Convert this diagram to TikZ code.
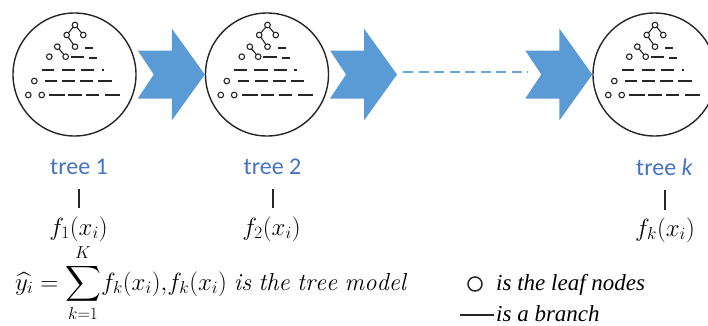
\documentclass[tikz,border=0pt]{standalone}
\usepackage{amsmath}
\usepackage{fontspec}
\newfontfamily\treefont{Carlito}
\newfontfamily\legfont{Liberation Serif}
\definecolor{arrowblue}{HTML}{5B9BD5}
\definecolor{labelblue}{HTML}{4472C4}
\tikzset{
  treecirc/.style={draw=black!85, circle, line width=1.4pt, minimum size=123pt, inner sep=0pt},
  glyphline/.style={line width=1.8pt, black!85},
  glyphedge/.style={line width=1.1pt, black!85},
  leafdot/.style={draw=black!85, fill=white, line width=1.1pt},
  treelabel/.style={anchor=base, inner sep=0pt, text=labelblue, font=\treefont\fontsize{24}{28}\selectfont},
  flabel/.style={anchor=base, inner sep=0pt, font=\fontsize{25.5}{30}\selectfont},
  barline/.style={line width=1.3pt, black!85},
  legtext/.style={anchor=base west, inner sep=0pt, text depth=0pt, font=\legfont\itshape\fontsize{23}{27}\selectfont},
  blockarrow/.style={fill=arrowblue, draw=none},
  dashlink/.style={arrowblue!90, line width=1.6pt, dash pattern=on 10pt off 5.5pt},
  treeglyph/.pic={
    \draw[glyphedge] (-7.8,-39.5) -- (0.5,-49.5) -- (8.8,-39.5);
    \draw[glyphedge] (-7.8,-39.5) -- (0.5,-27.8);
    \draw[glyphedge] (-17.2,-27.8) -- (-8.8,-17.8);
    \foreach \p in {(0.5,-49.5),(-7.8,-39.5),(8.8,-39.5),(0.5,-27.8),(-17.2,-27.8),(-8.8,-17.8),(-25.2,-17.8),(-40.2,6.5),(-46.2,20.5),(-32.8,20.5)}
      \draw[leafdot] \p circle (2.8pt);
    \draw[glyphline] (10.5,-26.8) -- (18.5,-26.8);
    \draw[glyphline] (-3.8,-17.2) -- (9.5,-17.2);
    \draw[glyphline] (14.5,-16.2) -- (22.5,-16.2);
    \foreach \a/\b in {-32.8/-20.5,-12.8/0.5,6.5/19.8,27.2/29.5}
      \draw[glyphline] (\a,-4.5) -- (\b,-4.5);
    \foreach \a/\b in {-29.5/-17.8,-12.2/0.5,5.5/18.8,23.8/37.2}
      \draw[glyphline] (\a,6.5) -- (\b,6.5);
    \foreach \a/\b in {-25.2/-9.5,-6.2/7.2,11.5/24.8,30.5/45.5}
      \draw[glyphline] (\a,20.5) -- (\b,20.5);
  },
  chevron/.pic={
    \fill[blockarrow] (-67,-24) -- (-33,-24) -- (-33,-46) -- (0,0) -- (-33,46) -- (-33,24) -- (-67,24) -- (-51,0) -- cycle;
  }
}
\begin{document}
\begin{tikzpicture}[x=1pt,y=-1pt]
\useasboundingbox (0,0) rectangle (708,325);
\clip (0,0) rectangle (708,325);
\fill[white] (0,0) rectangle (708,325);

% tree circles
\node[treecirc] (c1) at (74.5,74.5) {};
\node[treecirc] (c2) at (267,74.5) {};
\node[treecirc] (c3) at (654.5,74.5) {};
\pic at (c1.center) {treeglyph};
\pic at (c2.center) {treeglyph};
\pic at (c3.center) {treeglyph};

% block arrows
\pic at (c2.west) {chevron};
\pic at (397,74.5) {chevron};
\pic at (c3.west) {chevron};

% dashed link
\coordinate (d1) at (403,72);
\coordinate (d2) at (528,72);
\draw[dashlink] (d1) -- (d2);

% labels
\node[treelabel] (t1) at (79,174) {tree 1};
\node[treelabel] (t2) at (272.5,174) {tree 2};
\node[treelabel] (tk) at (664.5,175) {tree \textit{k}};

\node[flabel] (f1) at (78.5,235) {$f_1(x_i)$};
\node[flabel] (f2) at (271.5,235) {$f_2(x_i)$};
\node[flabel] (fk) at (665,236) {$f_k(x_i)$};

\coordinate (b1t) at (79,189);  \coordinate (b1b) at (79,208);
\coordinate (b2t) at (273,189); \coordinate (b2b) at (273,208);
\coordinate (bkt) at (665,190); \coordinate (bkb) at (665,210);
\draw[barline] (b1t) -- (b1b);
\draw[barline] (b2t) -- (b2b);
\draw[barline] (bkt) -- (bkb);

% formula
\node[anchor=base west, inner sep=0pt, font=\fontsize{24.5}{30}\selectfont] (formula) at (15,290)
  {$\displaystyle \widehat{y_i} = \sum_{k=1}^{K}\! f_k(x_i){,} f_k(x_i)\;\mathit{is\ the\ tree\ model}$};

% legend
\node[draw=black!85, circle, line width=1.5pt, minimum size=14pt, inner sep=0pt] (leafsym) at (475,284) {};
\node[legtext] (leaftxt) at (496,290) {is the leaf nodes};
\coordinate (br1) at (460,315);
\coordinate (br2) at (494,315);
\draw[line width=1.5pt, black!85] (br1) -- (br2);
\node[legtext] (brtxt) at (496,321) {is a branch};
\end{tikzpicture}
\end{document}
